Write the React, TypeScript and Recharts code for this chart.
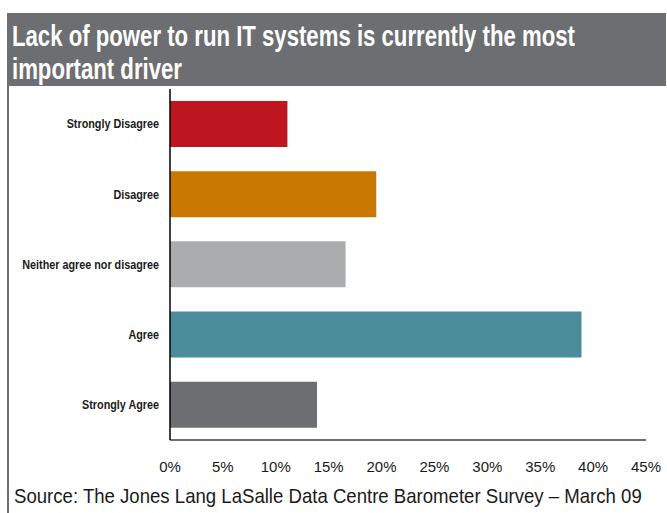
import React from "react";
import { BarChart, Bar, XAxis, YAxis, Cell } from "recharts";

// Survey answers, top to bottom
const categories = [
  "Strongly Disagree",
  "Disagree",
  "Neither agree nor disagree",
  "Agree",
  "Strongly Agree",
];
const shares = [11.1, 19.5, 16.6, 38.9, 13.9];
const barColors = ["#BE1620", "#C97800", "#ABACAE", "#4A8C9A", "#6D6E71"];
const xTicks = [0, 5, 10, 15, 20, 25, 30, 35, 40, 45];

const SANS = "'Liberation Sans', Arial, sans-serif";

const rows = categories.map((name, i) => ({ name, value: shares[i] }));

// Bold category label, squeezed a bit horizontally like a narrow face
function CategoryTick(props: any) {
  const { x, y, payload } = props;
  return (
    <text
      transform={`translate(${x},${y}) scale(0.9,1)`}
      textAnchor="end"
      dy="0.355em"
      fontSize={12}
      fontWeight="bold"
      fontFamily={SANS}
      fill="#1a1a1a"
    >
      {payload.value}
    </text>
  );
}

export default function App() {
  return (
    <div
      style={{
        position: "absolute",
        left: 0,
        top: 0,
        width: 667,
        height: 513,
        background: "#fff",
        overflow: "hidden",
      }}
    >
      {/* heading band and left frame rule */}
      <div
        style={{
          position: "absolute",
          left: 7,
          top: 13,
          width: 659,
          height: 73,
          background: "#6D6E71",
        }}
      />
      <div
        style={{
          position: "absolute",
          left: 7,
          top: 86,
          width: 2,
          height: 427,
          background: "#6D6E71",
        }}
      />
      <div style={{ position: "absolute", left: 0, top: 0 }}>
        <BarChart
          width={667}
          height={513}
          layout="vertical"
          data={rows}
          margin={{ top: 89, right: 21, bottom: 43, left: 0 }}
          barCategoryGap="17%"
        >
          <XAxis
            type="number"
            domain={[0, 45]}
            ticks={xTicks}
            interval={0}
            tickFormatter={(v) => `${v}%`}
            height={30}
            tickLine={false}
            tickMargin={15}
            axisLine={{ stroke: "#6D6E71", strokeWidth: 2 }}
            tick={{ fontSize: 15, fill: "#1a1a1a", fontFamily: SANS }}
          />
          <YAxis
            type="category"
            dataKey="name"
            width={170}
            tickLine={false}
            tickMargin={5}
            axisLine={{ stroke: "#000", strokeWidth: 1.5 }}
            tick={<CategoryTick />}
          />
          <Bar dataKey="value" isAnimationActive={false}>
            {rows.map((r, i) => (
              <Cell key={r.name} fill={barColors[i]} />
            ))}
          </Bar>
        </BarChart>
      </div>
      <svg
        width={667}
        height={513}
        style={{ position: "absolute", left: 0, top: 0, pointerEvents: "none" }}
      >
        <g fontFamily={SANS}>
          {/* condensed heading, two lines */}
          <g transform="translate(12,0) scale(0.765,1)" fontSize={29} fontWeight="bold" fill="#fff">
            <text x={0} y={46}>
              Lack of power to run IT systems is currently the most
            </text>
            <text x={0} y={79}>
              important driver
            </text>
          </g>
          <text
            transform="translate(14,503) scale(0.93,1)"
            fontSize={20}
            fill="#1a1a1a"
          >
            Source: The Jones Lang LaSalle Data Centre Barometer Survey – March 09
          </text>
        </g>
      </svg>
    </div>
  );
}
